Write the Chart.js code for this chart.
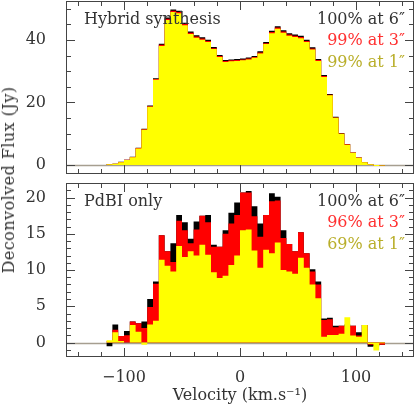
<!DOCTYPE html>
<html><head><meta charset="utf-8">
<script src="https://cdn.jsdelivr.net/npm/chart.js@4.4.1/dist/chart.umd.min.js"></script>
<style>
html,body{margin:0;padding:0;background:#fff;}
#wrap{position:relative;width:415px;height:405px;overflow:hidden;background:#fff;}
#c1{position:absolute;left:0;top:0;}
#c2{position:absolute;left:0;top:180px;}
#ytitle{position:absolute;left:9px;top:180px;transform:translate(-50%,-50%) rotate(-90deg);font-family:"DejaVu Serif";font-size:16px;letter-spacing:0.45px;color:#333;white-space:nowrap;line-height:1;}
</style></head><body>
<div id="wrap">
<canvas id="c1" width="415" height="180"></canvas>
<canvas id="c2" width="415" height="225"></canvas>
<div id="ytitle">Deconvolved Flux (Jy)</div>
</div>
<script>
// ---- data: left edges of 5 km/s velocity bins ----
const binLeft = [-130,-125,-120,-115,-110,-105,-100,-95,-90,-85,-80,-75,-70,-65,-60,-55,-50,-45,-40,-35,-30,-25,-20,-15,-10,-5,
  0,5,10,15,20,25,30,35,40,45,50,55,60,65,70,75,80,85,90,95,100,105,110,115,120,125];
const binWidth = 5;

// Hybrid synthesis (top panel)
const hybrid6 = [0,0,0,0.2,0.4,1.0,1.7,2.6,5.5,11.6,19.0,27.8,38.8,47.2,49.8,49.4,45.5,42.7,41.5,40.9,40.1,37.8,35.2,33.6,33.8,33.9,
  34.1,34.4,34.9,36.4,39.4,43.0,44.4,43.1,42.2,41.8,41.4,40.1,37.7,33.9,28.8,22.7,15.4,10.2,6.7,4.0,2.4,0.9,0.2,-0.3,-0.2,0];
const hybrid3 = [0,0,0,0.2,0.4,0.95,1.65,2.55,5.4,11.4,18.8,27.5,38.5,46.8,49.4,49.0,45.1,42.3,41.1,40.5,39.7,37.4,34.9,33.3,33.5,33.6,
  33.8,34.1,34.6,36.0,39.0,42.6,44.0,42.7,41.8,41.4,41.0,39.7,37.3,33.6,28.5,22.5,15.2,10.1,6.6,3.95,2.35,0.9,0.2,-0.3,-0.2,0];
const hybrid1 = [0,0,0,0.2,0.4,0.9,1.6,2.5,5.3,11.3,18.6,27.3,38.1,46.4,49.0,48.6,44.7,41.9,40.7,40.1,39.4,37.1,34.6,33.0,33.2,33.3,
  33.5,33.8,34.3,35.7,38.7,42.2,43.6,42.3,41.4,41.0,40.6,39.4,37.0,33.3,28.2,22.3,15.1,10.0,6.5,3.9,2.3,0.85,0.2,-0.3,-0.2,0];

// PdBI only (bottom panel)
const pdbi6 = [0,0,0,-0.5,2.5,0.9,1.6,2.9,2.65,2.9,6.0,8.4,14.8,12.6,13.7,17.6,16.6,14.3,16.7,17.5,17.6,13.5,13.2,15.5,17.9,19.3,
  20.7,20.9,18.8,16.4,17.6,20.6,20.1,15.5,13.6,12.6,15.2,12.3,10.1,8.4,3.3,3.4,2.3,2.3,2.5,2.3,1.4,2.4,-0.6,-0.5,-0.3,0];
const pdbi3 = [0,0,0,0.2,1.75,0.9,1.0,2.9,2.65,2.0,4.9,8.1,14.8,12.6,11.1,16.8,15.5,13.7,15.6,17.5,16.6,13.2,13.2,15.0,16.4,17.6,
  20.7,20.7,17.4,14.6,17.6,19.5,19.6,14.4,13.6,12.6,15.2,12.3,9.8,8.0,3.1,3.2,2.1,2.3,2.2,2.3,0.95,2.4,-0.3,-0.3,-0.3,0];
const pdbi1 = [0,0,0,0.3,1.4,0.2,0,2.4,1.5,-0.3,2.5,3.0,11.4,10.6,9.8,13.3,11.8,12.6,12.0,13.5,12.1,9.7,8.9,9.2,10.7,12.0,
  15.5,15.6,12.7,10.3,12.8,12.3,13.8,10.0,9.8,9.5,11.7,10.3,8.0,6.1,0.8,1.05,1.05,1.2,3.5,0.95,0.8,2.4,-0.2,-1.1,-0.1,0];

// ticks
const xMajor = [-100, 0, 100];
const xMinor = [-140,-120,-80,-60,-40,-20,20,40,60,80,120,140];
const yTopMajor = [0, 20, 40];
const yTopMinor = [5,10,15,25,30,35,45,50];
const yBotMajor = [0, 5, 10, 15, 20];
const yBotMinor = [-1,1,2,3,4,6,7,8,9,11,12,13,14,16,17,18,19,21];

// texts
const topLabel = 'Hybrid synthesis';
const topRight = ['100% at 6\u2033', '99% at 3\u2033', '99% at 1\u2033'];
const botLabel = 'PdBI only';
const botRight = ['100% at 6\u2033', '96% at 3\u2033', '69% at 1\u2033'];
const xTitle = 'Velocity (km.s\u207B\u00B9)';
const seriesColors = ['#000000', '#ff0000', '#ffff00'];
const textColors = ['#333333', '#ff3030', '#b9ae2a'];

const FONT = 'DejaVu Serif';
Chart.defaults.font.family = FONT;
Chart.defaults.font.size = 16;
Chart.defaults.color = '#333';

function steps(vals) {
  const pts = binLeft.map((x, i) => ({x: x, y: vals[i]}));
  pts.push({x: binLeft[binLeft.length - 1] + binWidth, y: vals[vals.length - 1]});
  return pts;
}
function ds(vals, color) {
  return {data: steps(vals), stepped: 'before', fill: 'origin', backgroundColor: color,
    borderColor: 'rgba(0,0,0,0)', borderWidth: 0, pointRadius: 0, pointHitRadius: 0, tension: 0};
}
const minus = v => (v < 0 ? '\u2212' + Math.abs(v) : String(v));
const noPad = s => { s.paddingTop = 0; s.paddingBottom = 0; s.paddingLeft = 0; s.paddingRight = 0; };

const frame = {
  id: 'frame',
  beforeDatasetsDraw(chart) {
    const {ctx, chartArea: a, scales: {y}} = chart;
    const y0 = Math.round(y.getPixelForValue(0)) + 0.5;
    ctx.save();
    ctx.strokeStyle = '#a69e90'; ctx.lineWidth = 1.3;
    ctx.beginPath(); ctx.moveTo(a.left, y0); ctx.lineTo(a.right, y0); ctx.stroke();
    ctx.restore();
  },
  afterDraw(chart, args, o) {
    const {ctx, chartArea: a, scales: {x, y}} = chart;
    ctx.save();
    ctx.strokeStyle = '#444'; ctx.lineWidth = 1;
    ctx.strokeRect(a.left + 0.5, a.top + 0.5, a.right - a.left - 1, a.bottom - a.top - 1);
    ctx.beginPath();
    const xt = (vals, len) => vals.forEach(v => {
      const p = Math.round(x.getPixelForValue(v)) + 0.5;
      ctx.moveTo(p, a.top); ctx.lineTo(p, a.top + len);
      ctx.moveTo(p, a.bottom); ctx.lineTo(p, a.bottom - len);
    });
    const yt = (vals, len) => vals.forEach(v => {
      const p = Math.round(y.getPixelForValue(v)) + 0.5;
      if (p < a.top || p > a.bottom) return;
      ctx.moveTo(a.left, p); ctx.lineTo(a.left + len, p);
      ctx.moveTo(a.right, p); ctx.lineTo(a.right - len, p);
    });
    xt(o.xMajor, 9); xt(o.xMinor, 5); yt(o.yMajor, 9); yt(o.yMinor, 5);
    ctx.stroke();
    ctx.font = '16px "' + FONT + '"';
    ctx.textBaseline = 'alphabetic';
    ctx.fillStyle = textColors[0];
    ctx.textAlign = 'left';
    ctx.fillText(o.left, a.left + 18, a.top + 22.5);
    ctx.textAlign = 'right';
    o.right.forEach((t, i) => {
      ctx.fillStyle = textColors[i];
      ctx.fillText(t, a.right - 9, a.top + 22.5 + i * 21.5);
    });
    ctx.restore();
  }
};

function makeChart(id, sets, yMin, yMax, yMajor, yMinor, leftText, rightTexts, bottomAxis) {
  const xCfg = bottomAxis ? {
    type: 'linear', min: -150, max: 150, position: 'bottom',
    afterBuildTicks: s => { s.ticks = xMajor.map(v => ({value: v})); },
    afterFit: s => { s.height = 48; noPad(s); },
    grid: {display: false}, border: {display: false},
    ticks: {padding: 3.5, color: '#333', callback: v => minus(v), maxRotation: 0, font: {size: 16}},
    title: {display: true, text: xTitle, color: '#333', font: {size: 16}, padding: {top: 0, bottom: 0}}
  } : {type: 'linear', min: -150, max: 150, display: false};
  return new Chart(document.getElementById(id), {
    type: 'line',
    data: {datasets: [ds(sets[2], seriesColors[2]), ds(sets[1], seriesColors[1]), ds(sets[0], seriesColors[0])]},
    options: {
      responsive: false, animation: false, events: [],
      layout: {padding: {left: 0, right: 1, top: bottomAxis ? 3 : 1, bottom: bottomAxis ? 0 : 6}},
      scales: {
        x: xCfg,
        y: {min: yMin, max: yMax,
          afterBuildTicks: s => { s.ticks = yMajor.map(v => ({value: v})); },
          afterFit: s => { s.width = 66; noPad(s); },
          grid: {display: false}, border: {display: false},
          ticks: {padding: 12, color: '#333', callback: v => minus(v), font: {size: 16}}}
      },
      plugins: {legend: {display: false}, tooltip: {enabled: false},
        frame: {xMajor: xMajor, xMinor: xMinor, yMajor: yMajor, yMinor: yMinor, left: leftText, right: rightTexts}}
    },
    plugins: [frame]
  });
}

makeChart('c1', [hybrid6, hybrid3, hybrid1], -2.9, 52.5, yTopMajor, yTopMinor, topLabel, topRight, false);
makeChart('c2', [pdbi6, pdbi3, pdbi1], -2, 22, yBotMajor, yBotMinor, botLabel, botRight, true);
</script>
</body></html>
